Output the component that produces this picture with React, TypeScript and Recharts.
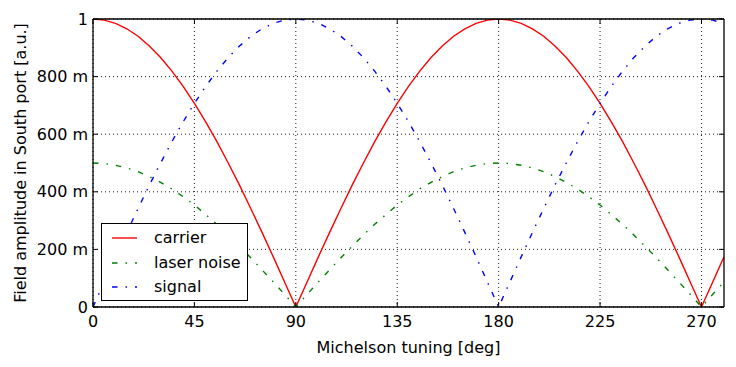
import React from 'react';
import { LineChart, Line, XAxis, YAxis, CartesianGrid } from 'recharts';

const tuningDeg = [
  0, 5, 10, 15, 20, 25, 30, 35, 40, 45, 50, 55, 60, 65, 70, 75, 80, 85, 90,
  95, 100, 105, 110, 115, 120, 125, 130, 135, 140, 145, 150, 155, 160, 165, 170, 175, 180,
  185, 190, 195, 200, 205, 210, 215, 220, 225, 230, 235, 240, 245, 250, 255, 260, 265, 270,
  275, 280,
];

const carrier = [
  1, 0.996, 0.985, 0.966, 0.94, 0.906, 0.866, 0.819, 0.766, 0.707, 0.643, 0.574, 0.5, 0.423, 0.342, 0.259, 0.174, 0.087, 0,
  0.087, 0.174, 0.259, 0.342, 0.423, 0.5, 0.574, 0.643, 0.707, 0.766, 0.819, 0.866, 0.906, 0.94, 0.966, 0.985, 0.996, 1,
  0.996, 0.985, 0.966, 0.94, 0.906, 0.866, 0.819, 0.766, 0.707, 0.643, 0.574, 0.5, 0.423, 0.342, 0.259, 0.174, 0.087, 0,
  0.087, 0.174,
];

const laserNoise = [
  0.5, 0.498, 0.492, 0.483, 0.47, 0.453, 0.433, 0.41, 0.383, 0.354, 0.321, 0.287, 0.25, 0.211, 0.171, 0.129, 0.087, 0.044, 0,
  0.044, 0.087, 0.129, 0.171, 0.211, 0.25, 0.287, 0.321, 0.354, 0.383, 0.41, 0.433, 0.453, 0.47, 0.483, 0.492, 0.498, 0.5,
  0.498, 0.492, 0.483, 0.47, 0.453, 0.433, 0.41, 0.383, 0.354, 0.321, 0.287, 0.25, 0.211, 0.171, 0.129, 0.087, 0.044, 0,
  0.044, 0.087,
];

const signal = [
  0, 0.087, 0.174, 0.259, 0.342, 0.423, 0.5, 0.574, 0.643, 0.707, 0.766, 0.819, 0.866, 0.906, 0.94, 0.966, 0.985, 0.996, 1,
  0.996, 0.985, 0.966, 0.94, 0.906, 0.866, 0.819, 0.766, 0.707, 0.643, 0.574, 0.5, 0.423, 0.342, 0.259, 0.174, 0.087, 0,
  0.087, 0.174, 0.259, 0.342, 0.423, 0.5, 0.574, 0.643, 0.707, 0.766, 0.819, 0.866, 0.906, 0.94, 0.966, 0.985, 0.996, 1,
  0.996, 0.985,
];

const xTicks = [0, 45, 90, 135, 180, 225, 270];
const yTicks = [0, 0.2, 0.4, 0.6, 0.8, 1];
const yTickLabels: Record<string, string> = {
  '0': '0', '0.2': '200 m', '0.4': '400 m', '0.6': '600 m', '0.8': '800 m', '1': '1',
};

const seriesInfo = [
  { key: 'carrier', name: 'carrier', color: '#ff0000', dash: undefined as string | undefined },
  { key: 'laserNoise', name: 'laser noise', color: '#008000', dash: '5.5 8 1.5 8' },
  { key: 'signal', name: 'signal', color: '#0000ff', dash: '5.5 8 1.5 8' },
];

const data = tuningDeg.map((x, i) => ({
  x,
  carrier: carrier[i],
  laserNoise: laserNoise[i],
  signal: signal[i],
}));

const FONT = 'DejaVu Sans, sans-serif';

const LegendBox = () => (
  <div
    style={{
      border: '1.3px solid #000',
      background: '#fff',
      width: 147,
      height: 78,
      boxSizing: 'border-box',
      fontFamily: FONT,
      fontSize: 16,
      paddingTop: 2,
    }}
  >
    {seriesInfo.map((s) => (
      <div key={s.key} style={{ display: 'flex', alignItems: 'center', height: 24.5 }}>
        <svg width={52} height={10} style={{ display: 'block' }}>
          <line
            x1={10}
            x2={35}
            y1={5}
            y2={5}
            stroke={s.color}
            strokeWidth={1.4}
            strokeDasharray={s.dash}
          />
        </svg>
        <span style={{ color: '#000', lineHeight: '16px' }}>{s.name}</span>
      </div>
    ))}
  </div>
);

const emptyTick = () => <g />;

export default function App() {
  return (
    <div style={{ position: 'absolute', left: 0, top: 0, width: 736, height: 367, background: '#fff' }}>
      <LineChart
        width={736}
        height={367}
        data={data}
        margin={{ top: 0, right: 0, bottom: 0, left: 13 }}
        style={{ fontFamily: FONT }}
      >
        <CartesianGrid
          stroke="#000"
          strokeWidth={0.9}
          strokeDasharray="1 3"
          horizontalValues={yTicks}
          verticalValues={xTicks}
        />
        <XAxis
          dataKey="x"
          type="number"
          domain={[0, 280]}
          ticks={xTicks}
          interval={0}
          height={60}
          allowDataOverflow
          tickSize={-5}
          tickMargin={14}
          axisLine={{ stroke: '#000', strokeWidth: 1.3 }}
          tickLine={{ stroke: '#000', strokeWidth: 1 }}
          tick={{ fill: '#000', fontSize: 16, fontFamily: FONT }}
          label={{
            content: (props: any) => {
              const vb = props.viewBox || {};
              return (
                <text
                  x={vb.x + vb.width / 2}
                  y={vb.y + 46}
                  textAnchor="middle"
                  fontSize={16}
                  fontFamily={FONT}
                  fill="#000"
                >
                  Michelson tuning [deg]
                </text>
              );
            },
          }}
        />
        <XAxis
          xAxisId="top"
          orientation="top"
          dataKey="x"
          type="number"
          domain={[0, 280]}
          ticks={xTicks}
          interval={0}
          height={19}
          allowDataOverflow
          tickSize={-5}
          axisLine={{ stroke: '#000', strokeWidth: 1.3 }}
          tickLine={{ stroke: '#000', strokeWidth: 1 }}
          tick={emptyTick}
        />
        <YAxis
          type="number"
          domain={[0, 1]}
          ticks={yTicks}
          interval={0}
          width={80}
          allowDataOverflow
          tickSize={-5}
          tickMargin={10}
          axisLine={{ stroke: '#000', strokeWidth: 1.3 }}
          tickLine={{ stroke: '#000', strokeWidth: 1 }}
          tick={{ fill: '#000', fontSize: 16, fontFamily: FONT }}
          tickFormatter={(v: number) => yTickLabels[String(v)] ?? String(v)}
          label={{
            content: (props: any) => {
              const vb = props.viewBox || {};
              const cx = vb.x + 7;
              const cy = vb.y + vb.height / 2;
              return (
                <text
                  x={cx}
                  y={cy}
                  transform={`rotate(-90, ${cx}, ${cy})`}
                  textAnchor="middle"
                  dominantBaseline="central"
                  fontSize={16}
                  fontFamily={FONT}
                  fill="#000"
                >
                  Field amplitude in South port [a.u.]
                </text>
              );
            },
          }}
        />
        <YAxis
          yAxisId="right"
          orientation="right"
          type="number"
          domain={[0, 1]}
          ticks={yTicks}
          interval={0}
          width={12}
          allowDataOverflow
          tickSize={-5}
          axisLine={{ stroke: '#000', strokeWidth: 1.3 }}
          tickLine={{ stroke: '#000', strokeWidth: 1 }}
          tick={emptyTick}
        />
        {seriesInfo.map((s) => (
          <Line
            key={s.key}
            dataKey={s.key}
            name={s.name}
            type="linear"
            stroke={s.color}
            strokeWidth={1.4}
            strokeDasharray={s.dash}
            dot={false}
            activeDot={false}
            isAnimationActive={false}
          />
        ))}
      </LineChart>
      <div style={{ position: 'absolute', left: 101, top: 223 }}>
        <LegendBox />
      </div>
    </div>
  );
}
